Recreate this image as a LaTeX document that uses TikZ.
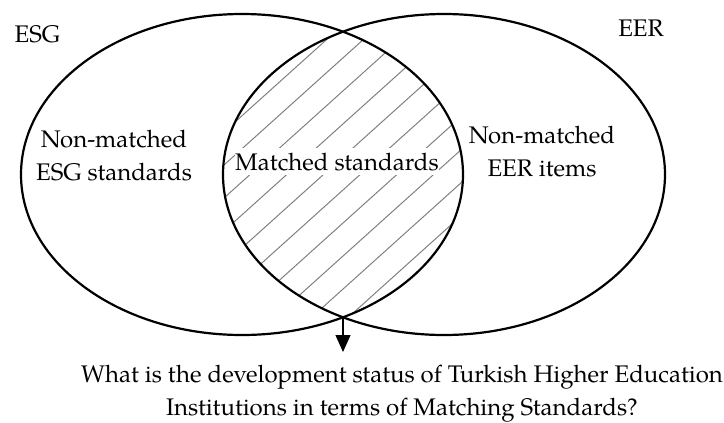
\documentclass[tikz,border=0pt]{standalone}
\usepackage{fontspec}
\setmainfont{TeX Gyre Pagella}
\usetikzlibrary{arrows.meta}
\begin{document}
\begin{tikzpicture}[x=0.5pt,y=-0.5pt,
  setline/.style={draw=black,line width=1.1pt},
  hatch/.style={draw=gray,line width=0.5pt},
  lbl/.style={anchor=base,align=center,inner sep=0pt,font=\fontsize{12}{16.5}\selectfont},
  arr/.style={draw=black,line width=0.6pt,-{Triangle[length=8.5pt,width=7.5pt]}}
]
\useasboundingbox (0,0) rectangle (724,423);
\begin{scope}
  \clip (242,174.5) ellipse [x radius=221, y radius=160.5];
  \clip (444,174.5) ellipse [x radius=221, y radius=160.5];
  \foreach \k in {-7,...,13} {
    \draw[hatch] ({407.3+36.7*\k},0) -- ({407.3+36.7*\k-388.9},350);
  }
\end{scope}
\draw[setline] (242,174.5) ellipse [x radius=221, y radius=160.5];
\draw[setline] (444,174.5) ellipse [x radius=221, y radius=160.5];
\node[lbl] (esg) at (37.5,42) {ESG};
\node[lbl] (eer) at (641,36) {EER};
\node[lbl] (nmesg) at (114,180) {Non-matched\\ESG standards};
\node[lbl] (nmeer) at (542,176) {Non-matched\\EER items};
\node[lbl,fill=white,inner xsep=0pt,inner ysep=2.5pt] (ms) at (337,170) {Matched standards};
\node[lbl] (q) at (402,415) {What is the development status of Turkish Higher Education\\Institutions in terms of Matching Standards?};
\coordinate (bot) at (343,317.3);
\coordinate (tip) at (343,352);
\draw[arr] (bot) -- (tip);
\end{tikzpicture}
\end{document}
